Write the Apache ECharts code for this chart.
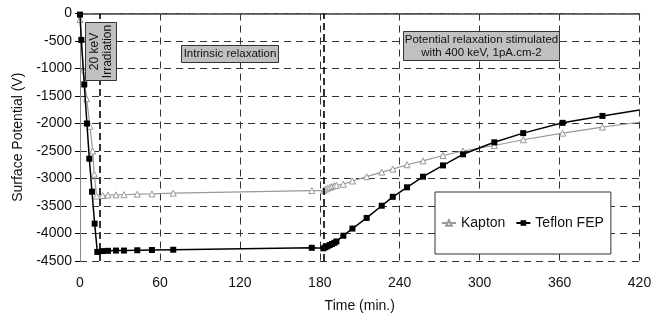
<!DOCTYPE html>
<html>
<head>
<meta charset="utf-8">
<script src="https://cdn.jsdelivr.net/npm/echarts@6/dist/echarts.min.js"></script>
<style>
html,body{margin:0;padding:0;background:#fff;}
#chart{width:664px;height:318px;}
</style>
</head>
<body>
<div id="chart"></div>
<script>
// time (min.) and surface potential (V)
var teflonTime = [0, 1, 3.2, 5.2, 7, 9, 11, 13, 17, 21, 27, 33, 43, 54, 70, 174, 182.7, 184.2, 185.8, 187.5, 189.2, 191, 192.5, 197.7, 204.5, 215.2, 226.5, 234.8, 245.5, 257.5, 272.5, 287.5, 311, 332.7, 362.3, 392.2];
var teflonV = [-20, -480, -1290, -2000, -2640, -3240, -3820, -4335, -4320, -4315, -4310, -4310, -4305, -4300, -4295, -4260, -4270, -4250, -4232, -4210, -4190, -4170, -4145, -4040, -3910, -3717, -3495, -3333, -3160, -2967, -2762, -2560, -2342, -2175, -1988, -1862];
var teflonEnd = [420, -1753];

var kaptonTime = [0, 2.5, 5, 7.5, 9.5, 10.7, 12.5, 17, 21, 27, 33, 43, 54, 70, 174, 182.7, 184.2, 185.8, 187.5, 189.2, 191, 192.5, 197.7, 204.5, 215.2, 226.5, 234.8, 245.5, 257.5, 272.5, 287.5, 311, 332.7, 362.3, 392.2];
var kaptonV = [-110, -1027, -1550, -2050, -2500, -2920, -3320, -3310, -3300, -3297, -3295, -3285, -3280, -3267, -3220, -3220, -3195, -3177, -3160, -3147, -3130, -3122, -3105, -3045, -2967, -2883, -2829, -2750, -2680, -2582, -2500, -2400, -2295, -2175, -2066];
var kaptonEnd = [420, -1977];

var phaseLines = [14.5, 183];

function pairs(t, v, end) {
  var out = t.map(function (x, i) { return [x, v[i]]; });
  out.push({ value: end, symbol: 'none' });
  return out;
}

var font = 'Liberation Sans, Arial, sans-serif';
var chart = echarts.init(document.getElementById('chart'));

// grey annotation box drawn on top of the grid
function box(left, top, w, h, lines, rotate, size) {
  return {
    type: 'group', left: left, top: top, z: 100,
    children: [
      { type: 'rect', z: 100, shape: { x: 0, y: 0, width: w, height: h },
        style: { fill: '#c0c0c0', stroke: '#333', lineWidth: 1 } },
      {
        type: 'text', z: 101, x: w / 2, y: h / 2, rotation: rotate ? Math.PI / 2 : 0,
        style: { text: lines, fill: '#111', font: size + 'px ' + font, align: 'center', verticalAlign: 'middle', lineHeight: 13 }
      }
    ]
  };
}

chart.setOption({
  animation: false,
  backgroundColor: '#fff',
  grid: { left: 80, right: 24.5, top: 13.5, bottom: 54.5 },
  textStyle: { fontFamily: font },
  legend: {
    left: 435, top: 192,
    padding: [24, 7, 24, 6],
    itemGap: 10,
    itemWidth: 14, itemHeight: 7,
    borderColor: '#333', borderWidth: 1,
    backgroundColor: '#fff',
    textStyle: { fontSize: 14, color: '#111', fontFamily: font },
    data: ['Kapton', 'Teflon FEP']
  },
  xAxis: [{
    type: 'value', min: 0, max: 420, interval: 60,
    name: 'Time (min.)', nameLocation: 'middle', nameGap: 38,
    nameTextStyle: { fontSize: 14, color: '#111' },
    axisLine: { show: true, lineStyle: { color: '#999', type: [7, 4] } },
    axisTick: { show: false },
    axisLabel: { fontSize: 14, color: '#111', margin: 15 },
    splitLine: { show: true, lineStyle: { color: '#333', type: [7, 5], width: 1 } }
  }, {
    type: 'value', min: 0, max: 420, position: 'top',
    axisLine: { show: true, lineStyle: { color: '#444', width: 1.5 } },
    axisTick: { show: false }, axisLabel: { show: false }, splitLine: { show: false }
  }],
  yAxis: [{
    type: 'value', min: -4500, max: 0, interval: 500,
    name: 'Surface Potential (V)', nameLocation: 'middle', nameGap: 52,
    nameTextStyle: { fontSize: 14, color: '#111' },
    axisLine: { show: true, onZero: false, lineStyle: { color: '#000', width: 1 } },
    axisTick: { show: true, length: 5, lineStyle: { color: '#000' } },
    axisLabel: { fontSize: 14, color: '#111', margin: 8, formatter: function (v) { return String(v); } },
    splitLine: { show: true, lineStyle: { color: '#333', type: [7, 5], width: 1 } }
  }, {
    type: 'value', min: -4500, max: 0, position: 'right',
    axisLine: { show: true, lineStyle: { color: '#888', width: 1 } },
    axisTick: { show: false }, axisLabel: { show: false }, splitLine: { show: false }
  }],
  series: [{
    name: 'Kapton',
    type: 'line',
    data: pairs(kaptonTime, kaptonV, kaptonEnd),
    symbol: 'triangle', symbolSize: 6, showAllSymbol: true,
    lineStyle: { color: '#999', width: 1.2 },
    itemStyle: { color: '#fff', borderColor: '#999', borderWidth: 1 },
    z: 3
  }, {
    name: 'Teflon FEP',
    type: 'line',
    data: pairs(teflonTime, teflonV, teflonEnd),
    symbol: 'rect', symbolSize: 6, showAllSymbol: true,
    lineStyle: { color: '#000', width: 1.5 },
    itemStyle: { color: '#000' },
    z: 4,
    markLine: {
      silent: true, symbol: 'none', label: { show: false },
      lineStyle: { color: '#000', type: [7, 4], width: 1.6 },
      data: phaseLines.map(function (x) { return { xAxis: x }; })
    }
  }],
  graphic: [
    box(85, 22, 31, 58, '20 keV\nIrradiation', true, 12),
    box(181, 45, 97, 17, 'Intrinsic relaxation', false, 11.5),
    box(403, 31, 156, 29, 'Potential relaxation stimulated\nwith 400 keV, 1pA.cm-2', false, 11.5)
  ]
});
</script>
</body>
</html>
